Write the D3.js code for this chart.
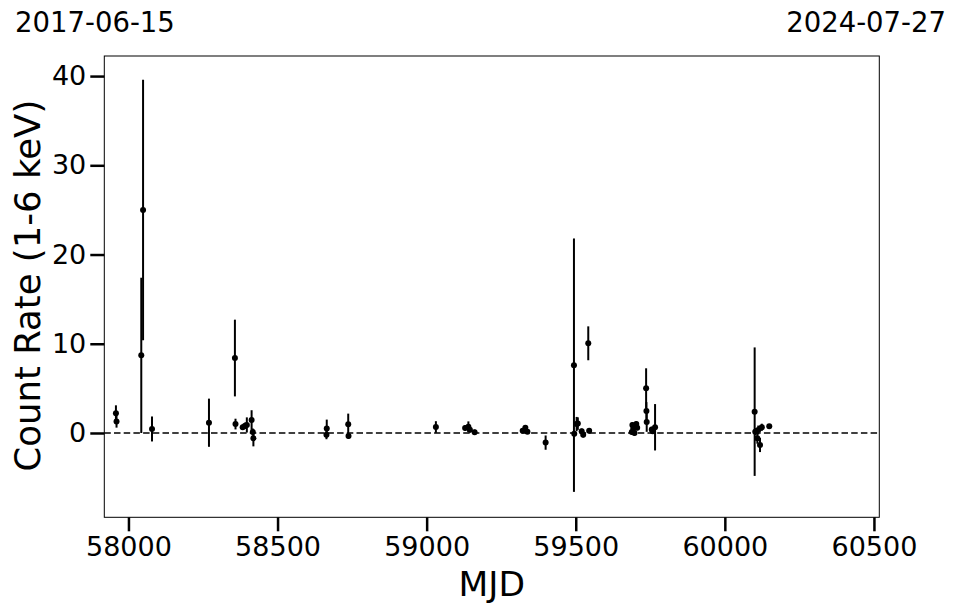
<!DOCTYPE html>
<html><head><meta charset="utf-8">
<script src="https://cdn.jsdelivr.net/npm/d3@7"></script>
<style>body{margin:0;background:#fff}svg{display:block}text{font-family:"DejaVu Sans",sans-serif}</style>
</head><body>
<script>
// Observation dates (MJD), count rates and 1-sigma errors
const mjd = [57958,57960,58043,58049,58079,58270,58357,58359,58383,58391,58397,58413,58417,58419,
  58665,58664,58737,58738,59031,59129,59140,59145,59161,59322,59331,59338,59399,
  59494,59495,59503,59507,59520,59525,59542,59545,
  59688,59690,59693,59697,59700,59703,59706,
  59736,59737,59738,59755,59758,59766,
  60100,60102,60109,60112,60118,60124,60149];
const rate = [2.2,1.3,8.7,25.0,0.45,1.15,8.4,1.0,0.65,0.8,0.9,1.45,0.1,-0.6,
  0.5,-0.2,0.97,-0.35,0.67,0.55,0.7,0.35,0.08,0.26,0.6,0.15,-1.08,
  7.6,-0.1,1.0,1.05,0.2,-0.2,10.05,0.25,
  0.1,0.9,0.5,0.0,0.7,1.0,0.6,
  5.0,2.46,1.23,0.4,0.2,0.64,
  2.39,0.15,-0.6,0.33,-1.34,0.64,0.75];
const rateErr = [0.9,0.7,8.7,14.6,1.4,2.7,4.3,0.6,0.3,0.35,0.85,1.1,0.4,0.9,
  1.0,0.5,1.2,0.3,0.65,0.3,0.6,0.3,0.3,0.2,0.25,0.2,0.8,
  14.2,0.3,0.8,0.7,0.3,0.3,1.9,0.3,
  0.3,0.3,0.3,0.3,0.3,0.3,0.3,
  2.25,1.0,1.1,0.3,0.3,2.6,
  7.2,0.4,0.6,0.5,0.8,0.4,0.2];
const xTicks = [58000,58500,59000,59500,60000,60500];
const yTicks = [0,10,20,30,40];
const startLabel = "2017-06-15", endLabel = "2024-07-27";
const xLabel = "MJD", yLabel = "Count Rate (1-6 keV)";

const W = 957, H = 613;
const L = 104.3, R = 879.3, T = 56, B = 517.3;
const svg = d3.select("body").append("svg").attr("width", W).attr("height", H);
const x = d3.scaleLinear().domain([57919, 60518]).range([L, R]);
const y = d3.scaleLinear().domain([-9.45, 42.25]).range([B, T]);

// zero line
svg.append("line").attr("x1", L).attr("x2", R).attr("y1", y(0)).attr("y2", y(0))
  .attr("stroke", "#000").attr("stroke-width", 1.5).attr("stroke-dasharray", "6.5,3.2");

const data = mjd.map((m, i) => ({m, r: rate[i], e: rateErr[i]}));
const g = svg.append("g");
g.selectAll("line.err").data(data).join("line").attr("class", "err")
  .attr("x1", d => x(d.m)).attr("x2", d => x(d.m))
  .attr("y1", d => y(d.r - d.e)).attr("y2", d => y(d.r + d.e))
  .attr("stroke", "#000").attr("stroke-width", 2);
g.selectAll("circle").data(data).join("circle")
  .attr("cx", d => x(d.m)).attr("cy", d => y(d.r)).attr("r", 3).attr("fill", "#000");

// frame
svg.append("rect").attr("x", L).attr("y", T).attr("width", R - L).attr("height", B - T)
  .attr("fill", "none").attr("stroke", "#000").attr("stroke-width", 1);

const xa = svg.append("g").attr("transform", `translate(0,${B})`)
  .call(d3.axisBottom(x).tickValues(xTicks).tickSize(14).tickPadding(6).tickFormat(d3.format("d")));
const ya = svg.append("g").attr("transform", `translate(${L},0)`)
  .call(d3.axisLeft(y).tickValues(yTicks).tickSize(14).tickPadding(4).tickFormat(d3.format("d")));
[xa, ya].forEach(a => {
  a.select(".domain").remove();
  a.selectAll(".tick line").attr("stroke", "#000").attr("stroke-width", 2.5);
  a.selectAll(".tick text").attr("fill", "#000").style("font-size", "27px")
   .style("font-family", "'DejaVu Sans',sans-serif");
});

svg.append("text").attr("x", (L + R) / 2).attr("y", 596).attr("text-anchor", "middle")
  .style("font-size", "34.5px").text(xLabel);
svg.append("text").attr("transform", `translate(40,${(T + B) / 2 - 1}) rotate(-90)`)
  .attr("text-anchor", "middle").style("font-size", "35.5px").text(yLabel);
svg.append("text").attr("x", 15).attr("y", 32).style("font-size", "27.5px").text(startLabel);
svg.append("text").attr("x", 946).attr("y", 32).attr("text-anchor", "end")
  .style("font-size", "27.5px").text(endLabel);
</script>
</body></html>
